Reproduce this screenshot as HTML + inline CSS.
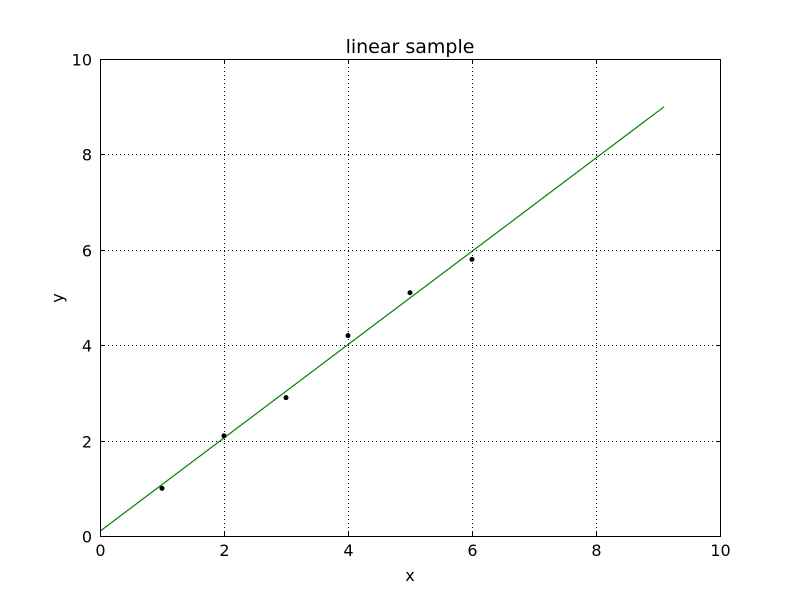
<!DOCTYPE html>
<html><head><meta charset="utf-8"><style>
body{margin:0;background:#fff;}
svg text{font-family:"DejaVu Sans","Liberation Sans",sans-serif;}
</style></head><body>
<svg id="chart" width="800" height="596" xmlns="http://www.w3.org/2000/svg">
<rect width="800" height="596" fill="#fff"/>
<g id="grid"></g>
<g id="marks"></g>
<rect x="100.5" y="59.5" width="620" height="477" fill="none" stroke="#000" stroke-width="1"/>
<g id="ticks"></g>
<text x="410" y="53" font-size="19" text-anchor="middle">linear sample</text>
<text x="410" y="581" font-size="16" text-anchor="middle">x</text>
<text x="63" y="298" font-size="16" text-anchor="middle" transform="rotate(-90 63 298)">y</text>
</svg>
<script>
const xTicks=[0,2,4,6,8,10];
const yTicks=[0,2,4,6,8,10];
const pointX=[1,2,3,4,5,6];
const pointY=[1,2.1,2.9,4.2,5.1,5.8];
const lineX=[0,9.1];
const lineY=[0.1,9.0];
const NS="http://www.w3.org/2000/svg";
const X0=100,X1=720,Y0=536,Y1=59;
const sx=v=>X0+(v-0)/10*(X1-X0);
const sy=v=>Y0-(v-0)/10*(Y0-Y1);
function mk(t,a,p){const e=document.createElementNS(NS,t);for(const k in a)e.setAttribute(k,a[k]);p.appendChild(e);return e;}
const grid=document.getElementById('grid'),ticks=document.getElementById('ticks'),marks=document.getElementById('marks');
xTicks.forEach(v=>{const x=Math.round(sx(v))+0.5;
 if(v>0&&v<10){const g=mk('line',{x1:x,x2:x,y1:Y1,y2:Y0,stroke:'#000','stroke-dasharray':'1,3','stroke-width':1},grid);
 
 }
 mk('line',{x1:x,x2:x,y1:Y0,y2:Y0-4,stroke:'#000'},ticks);
 mk('line',{x1:x,x2:x,y1:Y1,y2:Y1+4,stroke:'#000'},ticks);
 const t=mk('text',{x:x,y:Y0+20,'font-size':16,'text-anchor':'middle'},ticks);t.textContent=v;
 
 });
yTicks.forEach(v=>{const y=Math.round(sy(v))+0.5;
 if(v>0&&v<10){const g=mk('line',{x1:X0,x2:X1,y1:y,y2:y,stroke:'#000','stroke-dasharray':'1,3','stroke-width':1},grid);
 
 }
 mk('line',{x1:X0,x2:X0+4,y1:y,y2:y,stroke:'#000'},ticks);
 mk('line',{x1:X1,x2:X1-4,y1:y,y2:y,stroke:'#000'},ticks);
 const t=mk('text',{x:X0-8,y:y+6,'font-size':16,'text-anchor':'end'},ticks);t.textContent=v;
 
 });
const ln=mk('polyline',{points:lineX.map((v,i)=>sx(v)+','+sy(lineY[i])).join(' '),fill:'none',stroke:'#008000','stroke-width':1.2},marks);


pointX.forEach((v,i)=>{const c=mk('circle',{cx:sx(v),cy:sy(pointY[i]),r:2.5,fill:'#000'},marks);
 
 });
</script>
</body></html>
